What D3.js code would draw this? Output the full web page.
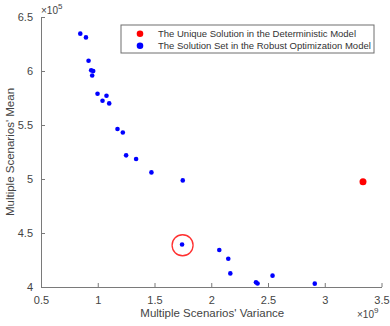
<!DOCTYPE html>
<html>
<head>
<meta charset="utf-8">
<script src="https://cdn.jsdelivr.net/npm/d3@7"></script>
<style>
  body { margin: 0; background: #fff; }
  text { font-family: "Liberation Sans", Arial, sans-serif; fill: #444; }
</style>
</head>
<body>
<div id="chart"></div>
<script>
// 資料：變異數 (×10^9) 與平均數 (×10^5)
const robustVariance = [0.846, 0.896, 0.919, 0.942, 0.960, 0.951, 0.998, 1.077, 1.042, 1.101,
  1.174, 1.221, 1.250, 1.338, 1.473, 1.749, 1.743, 2.071, 2.150, 2.168, 2.394, 2.408, 2.540, 2.912];
const robustMean = [6.346, 6.311, 6.095, 6.006, 6.000, 5.959, 5.790, 5.771, 5.725, 5.700,
  5.463, 5.431, 5.219, 5.185, 5.061, 4.987, 4.394, 4.343, 4.262, 4.126, 4.043, 4.033, 4.105, 4.031];
const detVariance = [3.337];
const detMean = [4.975];
const highlightIndex = 16; // 紅圈標示的點
const xTicks = [0.5, 1, 1.5, 2, 2.5, 3, 3.5];
const yTicks = [4, 4.5, 5, 5.5, 6, 6.5];
const legendLabels = ["The Unique Solution in the Deterministic Model",
  "The Solution Set in the Robust Optimization Model"];

const width = 390, height = 326;
const margin = { left: 41, right: 8.5, top: 17, bottom: 39 };

const svg = d3.select("#chart").append("svg")
  .attr("width", width).attr("height", height);

const x = d3.scaleLinear().domain([0.5, 3.5]).range([margin.left, width - margin.right]);
const y = d3.scaleLinear().domain([4, 6.5]).range([height - margin.bottom, margin.top]);

const axisColor = "#7a7a7a";

// x 軸
const gx = svg.append("g")
  .attr("transform", `translate(0,${height - margin.bottom})`)
  .call(d3.axisBottom(x).tickValues(xTicks).tickSizeInner(-4).tickSizeOuter(0).tickPadding(9)
    .tickFormat(d3.format("")));
gx.select(".domain").attr("stroke", axisColor);
gx.selectAll(".tick line").attr("stroke", axisColor);
gx.selectAll(".tick text").style("font-size", "11px").style("fill", "#444")
  .attr("font-family", "Liberation Sans, Arial, sans-serif");

// y 軸
const gy = svg.append("g")
  .attr("transform", `translate(${margin.left},0)`)
  .call(d3.axisLeft(y).tickValues(yTicks).tickSizeInner(-4).tickSizeOuter(0).tickPadding(8)
    .tickFormat(d3.format("")));
gy.select(".domain").attr("stroke", axisColor);
gy.selectAll(".tick line").attr("stroke", axisColor);
gy.selectAll(".tick text").style("font-size", "11px").style("fill", "#444")
  .attr("font-family", "Liberation Sans, Arial, sans-serif");

// 軸標題
svg.append("text")
  .attr("x", (x(0.5) + x(3.5)) / 2 + 1)
  .attr("y", 317)
  .attr("text-anchor", "middle")
  .style("font-size", "11.5px")
  .text("Multiple Scenarios' Variance");

svg.append("text")
  .attr("transform", `translate(14,${(y(4) + y(6.5)) / 2}) rotate(-90)`)
  .attr("text-anchor", "middle")
  .style("font-size", "11.5px")
  .text("Multiple Scenarios' Mean");

// 指數標示
const e5 = svg.append("text").attr("x", 41).attr("y", 14).style("font-size", "10px");
e5.append("tspan").text("×10");
e5.append("tspan").attr("dy", -5).style("font-size", "8px").text("5");

const e9 = svg.append("text").attr("x", 357).attr("y", 318).style("font-size", "10px");
e9.append("tspan").text("×10");
e9.append("tspan").attr("dy", -5).style("font-size", "8px").text("9");

// 散點
svg.selectAll(".robust")
  .data(robustVariance.map((v, i) => [v, robustMean[i]]))
  .join("circle")
  .attr("class", "robust")
  .attr("cx", d => x(d[0]))
  .attr("cy", d => y(d[1]))
  .attr("r", 2.3)
  .attr("fill", "#0000ff");

svg.selectAll(".det")
  .data(detVariance.map((v, i) => [v, detMean[i]]))
  .join("circle")
  .attr("class", "det")
  .attr("cx", d => x(d[0]))
  .attr("cy", d => y(d[1]))
  .attr("r", 3.5)
  .attr("fill", "#ff0000");

// 紅圈
svg.append("circle")
  .attr("cx", x(robustVariance[highlightIndex]) + 0.5)
  .attr("cy", y(robustMean[highlightIndex]) + 0.8)
  .attr("r", 10.5)
  .attr("fill", "none")
  .attr("stroke", "#ff3030")
  .attr("stroke-width", 1.3);

// 圖例
const legend = svg.append("g").attr("transform", "translate(121,25)");
legend.append("rect")
  .attr("width", 253).attr("height", 28)
  .attr("fill", "#fff").attr("stroke", "#6e6e6e").attr("stroke-width", 1);
const legendColors = ["#ff0000", "#0000ff"];
legendLabels.forEach((lab, i) => {
  legend.append("circle").attr("cx", 19).attr("cy", 8.7 + i * 12).attr("r", 3.3)
    .attr("fill", legendColors[i]);
  legend.append("text").attr("x", 37).attr("y", 12.3 + i * 12)
    .style("font-size", "9.5px").style("fill", "#333").text(lab);
});
</script>
</body>
</html>
